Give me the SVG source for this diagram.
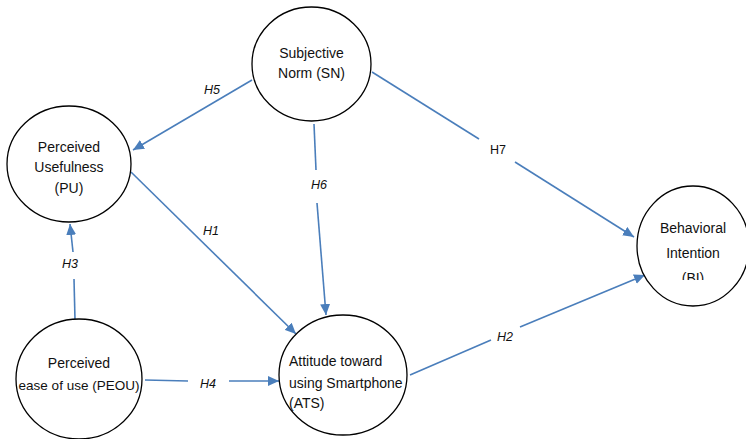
<svg xmlns="http://www.w3.org/2000/svg" width="746" height="439" viewBox="0 0 746 439">
<style>
.node{fill:#fff;stroke:#000;stroke-width:1.3}
.t{font-family:"Liberation Sans",Arial,sans-serif;font-size:14px;fill:#111;text-anchor:middle}
.tl{text-anchor:start}
.sm{font-size:13.5px}
.c{stroke:#4a7ebb;stroke-width:1.6;fill:none}
.lab{font-family:"Liberation Sans",Arial,sans-serif;font-size:12.5px;fill:#111;text-anchor:middle;font-style:italic}
.up{font-style:normal}
</style>
<defs>
<marker id="ah" markerUnits="userSpaceOnUse" markerWidth="11" markerHeight="10" refX="11" refY="5" orient="auto">
<path d="M0,0 L11,5 L0,10 z" fill="#4a7ebb"/>
</marker>
<clipPath id="biclip"><rect x="600" y="180" width="146" height="100"/></clipPath>
</defs>
<rect width="746" height="439" fill="#fff"/>
<g id="connectors">
<line class="c" x1="252" y1="80" x2="133" y2="150" marker-end="url(#ah)"/>
<line class="c" x1="314" y1="124" x2="316" y2="170"/>
<line class="c" x1="317" y1="203" x2="326" y2="315" marker-end="url(#ah)"/>
<line class="c" x1="131" y1="172" x2="296" y2="334" marker-end="url(#ah)"/>
<line class="c" x1="75" y1="320" x2="74" y2="279"/>
<line class="c" x1="73" y1="252" x2="70" y2="224" marker-end="url(#ah)"/>
<line class="c" x1="145" y1="380" x2="188" y2="381"/>
<line class="c" x1="229" y1="381" x2="279" y2="381" marker-end="url(#ah)"/>
<line class="c" x1="372" y1="72" x2="479" y2="139"/>
<line class="c" x1="515" y1="162" x2="634" y2="237" marker-end="url(#ah)"/>
<line class="c" x1="410" y1="375" x2="491" y2="340"/>
<line class="c" x1="520" y1="327" x2="645" y2="275" marker-end="url(#ah)"/>
<text class="lab" x="212" y="94">H5</text>
<text class="lab" x="319" y="189">H6</text>
<text class="lab" x="211" y="235">H1</text>
<text class="lab" x="70" y="268">H3</text>
<text class="lab" x="208" y="388">H4</text>
<text class="lab up" x="498" y="154">H7</text>
<text class="lab" x="505" y="341">H2</text>
</g>
<g id="SN">
<ellipse class="node" cx="311.5" cy="64" rx="59.5" ry="57"/>
<text class="t" x="311.5" y="58">Subjective</text>
<text class="t" x="311.5" y="78">Norm (SN)</text>
</g>
<g id="PU">
<ellipse class="node" cx="69" cy="164" rx="62" ry="58"/>
<text class="t" x="69" y="152">Perceived</text>
<text class="t" x="69" y="172">Usefulness</text>
<text class="t" x="69" y="193">(PU)</text>
</g>
<g id="BI">
<ellipse class="node" cx="693" cy="246" rx="56" ry="60"/>
<g clip-path="url(#biclip)">
<text class="t" x="693" y="233">Behavioral</text>
<text class="t" x="693" y="258">Intention</text>
<text class="t" x="693" y="283">(BI)</text>
</g>
</g>
<g id="PEOU">
<ellipse class="node" cx="79" cy="379" rx="63" ry="60"/>
<text class="t" x="79" y="368">Perceived</text>
<text class="t sm" x="79" y="390">ease of use (PEOU)</text>
</g>
<g id="ATS">
<ellipse class="node" cx="343" cy="375" rx="64" ry="60"/>
<text class="t tl" x="289" y="366">Attitude toward</text>
<text class="t tl" x="289" y="388">using Smartphone</text>
<text class="t tl" x="289" y="408">(ATS)</text>
</g>
</svg>
